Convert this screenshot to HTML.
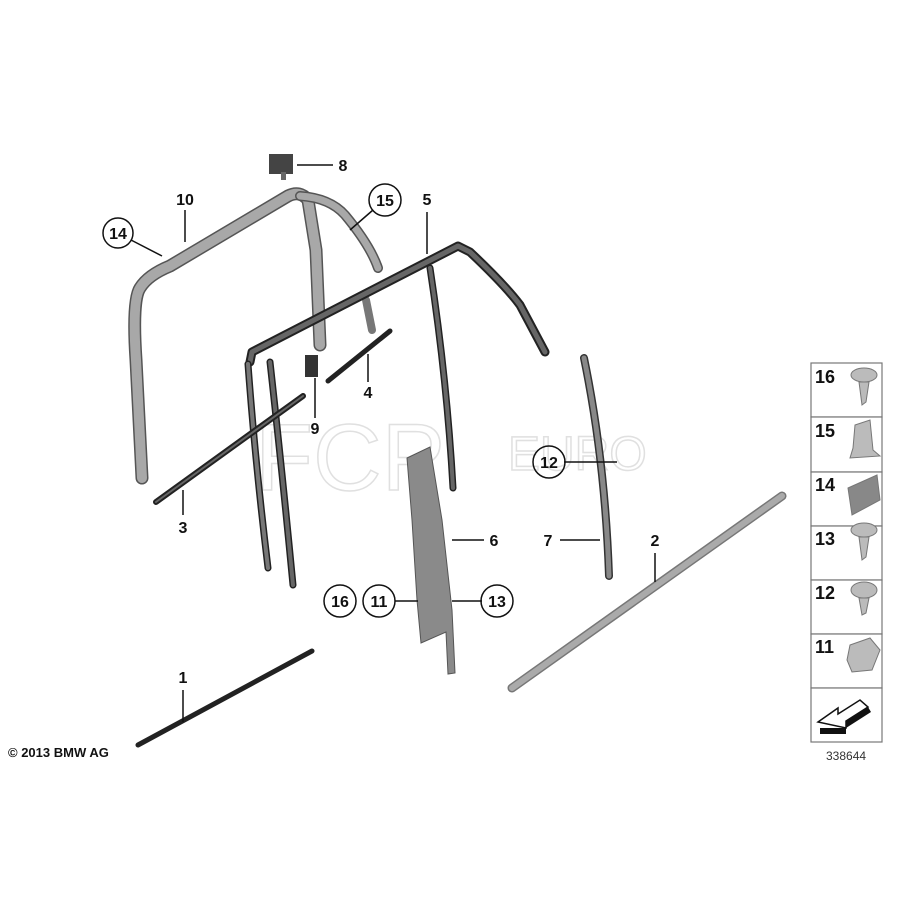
<!DOCTYPE html>
<html><head><meta charset="utf-8"><style>
html,body{margin:0;padding:0;background:#fff;}
svg{display:block}
text{font-family:"Liberation Sans",Arial,sans-serif;font-weight:bold;fill:#111}
</style></head><body>
<svg width="900" height="900" viewBox="0 0 900 900" xmlns="http://www.w3.org/2000/svg">
<!-- watermark -->
<g fill="#fff" stroke="#e2e2e2" stroke-width="1.5" font-family="Liberation Sans, sans-serif">
<text x="255" y="490" font-size="95" style="fill:#fff;font-weight:normal" stroke="#e0e0e0">FCP</text>
<text x="508" y="470" font-size="48" style="fill:#fff;font-weight:normal" stroke="#e0e0e0">EURO</text>
</g>
<!-- part 10 gray frame -->
<g fill="none" stroke-linecap="round" stroke-linejoin="round">
<path d="M142,478 L136,360 Q132,300 140,288 Q148,275 170,266 L288,196 Q300,190 308,200 L316,250 L320,345" stroke="#555" stroke-width="13"/>
<path d="M142,478 L136,360 Q132,300 140,288 Q148,275 170,266 L288,196 Q300,190 308,200 L316,250 L320,345" stroke="#a8a8a8" stroke-width="10"/>
<path d="M300,196 Q330,198 345,215 Q370,245 378,268" stroke="#555" stroke-width="10"/>
<path d="M300,196 Q330,198 345,215 Q370,245 378,268" stroke="#a8a8a8" stroke-width="7"/>
<path d="M366,300 L372,330" stroke="#777" stroke-width="8"/>
<!-- part 8 -->
<rect x="269" y="154" width="24" height="20" fill="#444" stroke="none"/>
<rect x="281" y="172" width="5" height="8" fill="#666" stroke="none"/>
<!-- part 5 dark frame -->
<path d="M250,362 L252,352 L458,246 L470,252 Q505,285 520,305 L545,352" stroke="#222" stroke-width="9"/>
<path d="M250,362 L252,352 L458,246 L470,252 Q505,285 520,305 L545,352" stroke="#666" stroke-width="5"/>
<path d="M248,364 Q255,460 268,568" stroke="#222" stroke-width="7"/>
<path d="M248,364 Q255,460 268,568" stroke="#777" stroke-width="4"/>
<path d="M270,362 Q282,470 293,585" stroke="#222" stroke-width="7"/>
<path d="M270,362 Q282,470 293,585" stroke="#666" stroke-width="4"/>
<path d="M430,268 Q447,380 453,488" stroke="#222" stroke-width="7"/>
<path d="M430,268 Q447,380 453,488" stroke="#666" stroke-width="4"/>
<!-- part 3 -->
<path d="M156,502 L303,396" stroke="#222" stroke-width="6"/>
<path d="M156,502 L303,396" stroke="#666" stroke-width="2"/>
<!-- part 4 -->
<path d="M328,381 L390,331" stroke="#222" stroke-width="5"/>
<!-- part 2 rod -->
<path d="M512,688 L782,496" stroke="#777" stroke-width="9"/>
<path d="M512,688 L782,496" stroke="#aaa" stroke-width="6"/>
<!-- part 1 -->
<path d="M138,745 L312,651" stroke="#222" stroke-width="5"/>
<!-- part 7 -->
<path d="M584,358 Q605,460 609,576" stroke="#333" stroke-width="8"/>
<path d="M584,358 Q605,460 609,576" stroke="#888" stroke-width="5"/>
</g>
<!-- part 9 -->
<rect x="305" y="355" width="13" height="22" fill="#333"/>
<!-- part 6 -->
<polygon points="407,458 430,447 442,520 452,610 455,673 448,674 446,632 421,643 417,600 412,520" fill="#8a8a8a" stroke="#555" stroke-width="1"/>
<!-- leader lines -->
<g stroke="#111" stroke-width="1.5" fill="none">
<line x1="297" y1="165" x2="333" y2="165"/>
<line x1="185" y1="210" x2="185" y2="242"/>
<line x1="131" y1="240" x2="162" y2="256"/>
<line x1="373" y1="210" x2="350" y2="230"/>
<line x1="427" y1="212" x2="427" y2="254"/>
<line x1="368" y1="382" x2="368" y2="354"/>
<line x1="315" y1="418" x2="315" y2="378"/>
<line x1="183" y1="515" x2="183" y2="490"/>
<line x1="564" y1="462" x2="617" y2="462"/>
<line x1="452" y1="540" x2="484" y2="540"/>
<line x1="560" y1="540" x2="600" y2="540"/>
<line x1="655" y1="553" x2="655" y2="582"/>
<line x1="395" y1="601" x2="418" y2="601"/>
<line x1="452" y1="601" x2="482" y2="601"/>
<line x1="183" y1="690" x2="183" y2="722"/>
</g>
<g fill="none" stroke="#111" stroke-width="1.5">
<circle cx="118" cy="233" r="15"/>
<circle cx="385" cy="200" r="16"/>
<circle cx="549" cy="462" r="16"/>
<circle cx="340" cy="601" r="16"/>
<circle cx="379" cy="601" r="16"/>
<circle cx="497" cy="601" r="16"/>
</g>
<g font-size="16" text-anchor="middle">
<text x="343" y="171">8</text>
<text x="185" y="205">10</text>
<text x="118" y="239">14</text>
<text x="385" y="206">15</text>
<text x="427" y="205">5</text>
<text x="368" y="398">4</text>
<text x="315" y="434">9</text>
<text x="183" y="533">3</text>
<text x="549" y="468">12</text>
<text x="494" y="546">6</text>
<text x="548" y="546">7</text>
<text x="655" y="546">2</text>
<text x="340" y="607">16</text>
<text x="379" y="607">11</text>
<text x="497" y="607">13</text>
<text x="183" y="683">1</text>
</g>
<text x="8" y="757" font-size="13">© 2013 BMW AG</text>
<!-- legend -->
<g fill="#fff" stroke="#777" stroke-width="1.2">
<rect x="811" y="363" width="71" height="54"/>
<rect x="811" y="417" width="71" height="55"/>
<rect x="811" y="472" width="71" height="54"/>
<rect x="811" y="526" width="71" height="54"/>
<rect x="811" y="580" width="71" height="54"/>
<rect x="811" y="634" width="71" height="54"/>
<rect x="811" y="688" width="71" height="54"/>
</g>
<g font-size="18">
<text x="815" y="383">16</text>
<text x="815" y="437">15</text>
<text x="815" y="491">14</text>
<text x="815" y="545">13</text>
<text x="815" y="599">12</text>
<text x="815" y="653">11</text>
</g>
<g fill="#bbb" stroke="#777" stroke-width="1">
<ellipse cx="864" cy="375" rx="13" ry="7"/>
<path d="M859,382 L869,382 L866,402 L862,405 Z"/>
<path d="M855,425 L870,420 L873,450 L880,456 L850,458 L853,448 Z"/>
<path d="M848,488 L877,475 L880,500 L852,515 Z" fill="#888"/>
<ellipse cx="864" cy="530" rx="13" ry="7"/>
<path d="M859,537 L869,537 L866,557 L862,560 Z"/>
<ellipse cx="864" cy="590" rx="13" ry="8"/>
<path d="M859,598 L869,598 L866,613 L862,615 Z"/>
<path d="M850,645 L870,638 L880,650 L872,670 L852,672 L847,660 Z"/>
</g>
<path d="M818,722 L838,708 L838,714 L860,700 L868,707 L846,721 L846,728 Z" fill="#fff" stroke="#111" stroke-width="1.5"/>
<path d="M820,728 L846,728 L846,734 L820,734 Z" fill="#111"/>
<path d="M846,721 L868,707 L871,712 L846,728 Z" fill="#111"/>
<text x="826" y="760" font-size="12" style="font-weight:normal;fill:#333">338644</text>
</svg>
</body></html>
